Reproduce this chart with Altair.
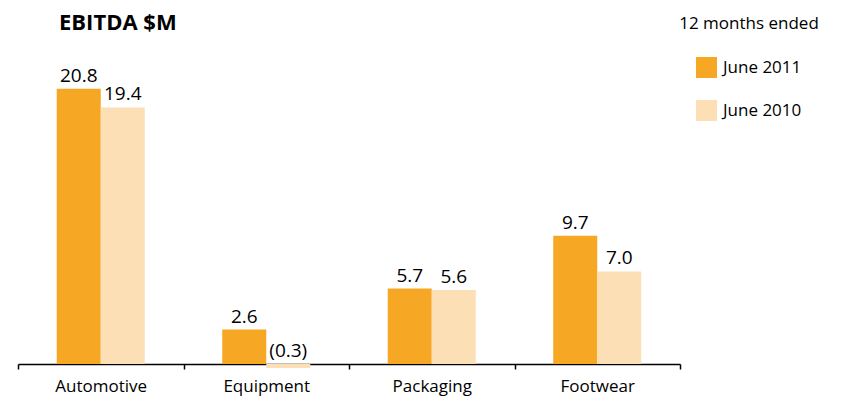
import altair as alt
import pandas as pd

categories = ["Automotive", "Equipment", "Packaging", "Footwear"]
periods = ["June 2011", "June 2010"]
ebitda_2011 = [20.8, 2.6, 5.7, 9.7]
ebitda_2010 = [19.4, -0.3, 5.6, 7.0]
colors = ["#F6A724", "#FDDFB6"]

rows = []
for c, a, b in zip(categories, ebitda_2011, ebitda_2010):
    for p, v in zip(periods, [a, b]):
        lab = f"({abs(v):.1f})" if v < 0 else f"{v:.1f}"
        rows.append({"segment": c, "period": p, "value": v, "label": lab, "lpos": max(v, 0)})
df = pd.DataFrame(rows)

FONT = "Open Sans"

x = alt.X("segment:N", sort=categories,
          scale=alt.Scale(paddingInner=0, paddingOuter=0),
          axis=alt.Axis(title=None, labelAngle=0, tickBand="extent", domainColor="black",
                        tickColor="black", domainWidth=1.5, tickWidth=1.5, tickSize=5,
                        labelFontSize=17, labelColor="black", labelFont=FONT, labelPadding=9))
xo = alt.XOffset("period:N", sort=periods, scale=alt.Scale(paddingInner=0, paddingOuter=0.88))

bars = alt.Chart(df).mark_bar().encode(
    x=x, xOffset=xo,
    y=alt.Y("value:Q", scale=alt.Scale(domain=[0, 22], nice=False, zero=True), axis=None),
    color=alt.Color("period:N", sort=periods,
                    scale=alt.Scale(domain=periods, range=colors),
                    legend=alt.Legend(title="12 months ended", orient="none", legendX=661, legendY=-57,
                                      symbolType="square", symbolSize=441, symbolStrokeWidth=0,
                                      titleFontSize=17, titleFontWeight="normal", titleFont=FONT,
                                      titleColor="black", labelFontSize=17, labelFont=FONT,
                                      labelColor="black", rowPadding=22, titlePadding=24,
                                      labelOffset=6, titleAnchor="middle", labelLimit=200, titleLimit=300)),
)

labels = alt.Chart(df).mark_text(baseline="alphabetic", dy=-7, fontSize=19, font=FONT, color="black").encode(
    x=x, xOffset=xo,
    y=alt.Y("lpos:Q"),
    text="label:N",
)

chart = alt.layer(bars, labels).properties(
    width=662, height=291,
    autosize=alt.AutoSizeParams(type="none"),
    padding={"left": 18, "top": 73, "right": 164, "bottom": 39},
    background="white",
    title=alt.TitleParams("EBITDA $M", anchor="start", frame="group", dx=41, offset=-19,
                          fontSize=22, fontWeight="bold", font=FONT, color="black"),
).configure_view(stroke=None)

chart.save("out.html", embed_options={"renderer": "svg", "actions": False})
